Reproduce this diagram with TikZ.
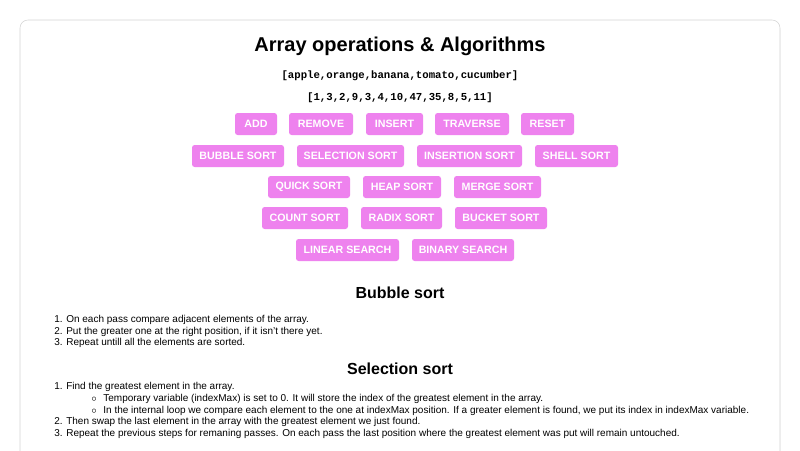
\documentclass[tikz,border=0pt]{standalone}
\usepackage{fontspec}
\setmainfont{Liberation Sans}
\setmonofont{Liberation Mono}
\usetikzlibrary{positioning,shadows}
\definecolor{btnviolet}{HTML}{EE82EE}
\definecolor{cardline}{HTML}{D4D4D4}
\tikzset{
  btn/.style={fill=btnviolet,text=white,rounded corners=2pt,minimum height=16.5pt,
    inner sep=0pt,font=\bfseries\fontsize{8}{9}\selectfont},
  step line/.style={anchor=west,inner sep=0pt,font=\fontsize{7.5}{9}\selectfont},
  heading/.style={font=\bfseries\fontsize{12}{14}\selectfont},
}
\begin{document}
\begin{tikzpicture}[x=0.75pt,y=-0.75pt]
  \useasboundingbox (0,0) rectangle (800,450);
  % card
  \filldraw[white,draw=cardline,drop shadow={opacity=0.3,shadow xshift=0pt,shadow yshift=-1.5pt}]
    [rounded corners=6pt] (20,20) rectangle (780,470);
  \node[font=\bfseries\fontsize{15}{18}\selectfont] (title) at (400,46) {Array operations \& Algorithms};
  \node[font=\ttfamily\bfseries\fontsize{8}{9}\selectfont] (fruits) at (400,76) {[apple,orange,banana,tomato,cucumber]};
  \node[font=\ttfamily\bfseries\fontsize{8}{9}\selectfont] (numbers) at (400,98) {[1,3,2,9,3,4,10,47,35,8,5,11]};
  % buttons
  \foreach \cx/\w/\txt [count=\i] in {256/42/ADD,321/64/REMOVE,394.5/57/INSERT,472/74/TRAVERSE,547.5/53/RESET}
    \node[btn,minimum width=\w*0.75pt] (ops\i) at (\cx,124) {\txt};
  \foreach \cx/\w/\txt [count=\i] in {238/92/BUBBLE SORT,350.5/107/SELECTION SORT,469.5/105/INSERTION SORT,576.5/83/SHELL SORT}
    \node[btn,minimum width=\w*0.75pt] (sortA\i) at (\cx,156) {\txt};
  \foreach \cx/\w/\txt [count=\i] in {309/82/QUICK SORT,402/78/HEAP SORT,497.5/87/MERGE SORT}
    \node[btn,minimum width=\w*0.75pt] (sortB\i) at (\cx,187) {\txt};
  \foreach \cx/\w/\txt [count=\i] in {305/86/COUNT SORT,401.5/81/RADIX SORT,501/92/BUCKET SORT}
    \node[btn,minimum width=\w*0.75pt] (sortC\i) at (\cx,218) {\txt};
  \foreach \cx/\w/\txt [count=\i] in {347.5/103/LINEAR SEARCH,463/102/BINARY SEARCH}
    \node[btn,minimum width=\w*0.75pt] (search\i) at (\cx,250) {\txt};
  % bubble sort
  \node[heading] (bubble) at (400,293) {Bubble sort};
  \node[step line] (b1) at (54,320) {1. On each pass compare adjacent elements of the array.};
  \node[step line] (b2) at (54,331.5) {2. Put the greater one at the right position, if it isn't there yet.};
  \node[step line] (b3) at (54,343) {3. Repeat untill all the elements are sorted.};
  % selection sort
  \node[heading] (selection) at (400,369) {Selection sort};
  \node[step line] (s1) at (54,387) {1. Find the greatest element in the array.};
  \node[step line] (s1a) at (91,399) {$\circ$\hspace{5pt}Temporary variable (indexMax) is set to 0. It will store the index of the greatest element in the array.};
  \node[step line] (s1b) at (91,410.5) {$\circ$\hspace{5pt}In the internal loop we compare each element to the one at indexMax position. If a greater element is found, we put its index in indexMax variable.};
  \node[step line] (s2) at (54,422) {2. Then swap the last element in the array with the greatest element we just found.};
  \node[step line] (s3) at (54,433.5) {3. Repeat the previous steps for remaning passes. On each pass the last position where the greatest element was put will remain untouched.};
\end{tikzpicture}
\end{document}
